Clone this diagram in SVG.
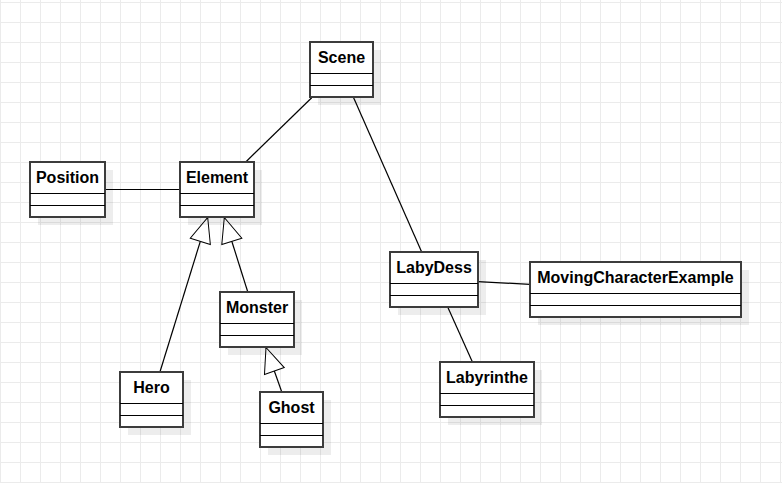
<svg xmlns="http://www.w3.org/2000/svg" width="782" height="483" viewBox="0 0 782 483">
<defs>
<pattern id="grid" x="0" y="2" width="20" height="20" patternUnits="userSpaceOnUse">
<path d="M0.5 0 V20 M0 0.5 H20" fill="none" stroke="#ebebeb" stroke-width="1"/>
</pattern>
<marker id="tri" viewBox="0 0 27 24" refX="1" refY="12" markerWidth="27" markerHeight="24" markerUnits="userSpaceOnUse" orient="auto">
<path d="M1 12 L26 1.5 L26 22.5 Z" fill="#fff" stroke="#000" stroke-width="1"/>
</marker>
</defs>
<style>
.sh{fill:#000;fill-opacity:0.07}
.box{fill:#fff;stroke:#3c3c3c;stroke-width:2}
.div{stroke:#000;stroke-width:1}
.t{font-family:"Liberation Sans",Arial,sans-serif;font-size:16px;font-weight:bold;fill:#000;text-anchor:middle}
.c{fill:none;stroke:#000;stroke-width:1.2}
</style>
<rect width="782" height="483" fill="#fff"/>
<rect width="782" height="483" fill="url(#grid)"/>
<g id="connectors">
<line class="c" x1="105" y1="189.5" x2="180" y2="189.5"/>
<line class="c" x1="311.7" y1="97.7" x2="246" y2="161.7"/>
<line class="c" x1="353.3" y1="97" x2="421.7" y2="252"/>
<line class="c" x1="478" y1="281.7" x2="530" y2="284.3"/>
<line class="c" x1="447.7" y1="307" x2="472.3" y2="361.7"/>
<path class="c" d="M207.7 217.5 L160 371.7" marker-start="url(#tri)"/>
<path class="c" d="M224.3 217.5 L247.7 291.7" marker-start="url(#tri)"/>
<path class="c" d="M266 347.5 L281.7 391.7" marker-start="url(#tri)"/>
</g>
<g id="Scene">
<rect class="sh" x="318" y="50" width="63" height="55"/>
<rect class="box" x="310" y="42" width="63" height="55"/>
<line class="div" x1="310" y1="73.5" x2="373" y2="73.5"/>
<line class="div" x1="310" y1="85.5" x2="373" y2="85.5"/>
<text class="t" x="341.5" y="63">Scene</text>
</g>
<g id="Position">
<rect class="sh" x="38" y="170" width="75" height="55"/>
<rect class="box" x="30" y="162" width="75" height="55"/>
<line class="div" x1="30" y1="193.5" x2="105" y2="193.5"/>
<line class="div" x1="30" y1="205.5" x2="105" y2="205.5"/>
<text class="t" x="67.5" y="183">Position</text>
</g>
<g id="Element">
<rect class="sh" x="188" y="170" width="74" height="55"/>
<rect class="box" x="180" y="162" width="74" height="55"/>
<line class="div" x1="180" y1="193.5" x2="254" y2="193.5"/>
<line class="div" x1="180" y1="205.5" x2="254" y2="205.5"/>
<text class="t" x="217" y="183">Element</text>
</g>
<g id="Monster">
<rect class="sh" x="228" y="300" width="74" height="55"/>
<rect class="box" x="220" y="292" width="74" height="55"/>
<line class="div" x1="220" y1="323.5" x2="294" y2="323.5"/>
<line class="div" x1="220" y1="335.5" x2="294" y2="335.5"/>
<text class="t" x="257" y="313">Monster</text>
</g>
<g id="Hero">
<rect class="sh" x="128" y="380" width="63" height="55"/>
<rect class="box" x="120" y="372" width="63" height="55"/>
<line class="div" x1="120" y1="403.5" x2="183" y2="403.5"/>
<line class="div" x1="120" y1="415.5" x2="183" y2="415.5"/>
<text class="t" x="151.5" y="393">Hero</text>
</g>
<g id="Ghost">
<rect class="sh" x="268" y="400" width="63" height="55"/>
<rect class="box" x="260" y="392" width="63" height="55"/>
<line class="div" x1="260" y1="423.5" x2="323" y2="423.5"/>
<line class="div" x1="260" y1="435.5" x2="323" y2="435.5"/>
<text class="t" x="291.5" y="413">Ghost</text>
</g>
<g id="LabyDess">
<rect class="sh" x="398" y="260" width="88" height="55"/>
<rect class="box" x="390" y="252" width="88" height="55"/>
<line class="div" x1="390" y1="283.5" x2="478" y2="283.5"/>
<line class="div" x1="390" y1="295.5" x2="478" y2="295.5"/>
<text class="t" x="434" y="273">LabyDess</text>
</g>
<g id="MovingCharacterExample">
<rect class="sh" x="538" y="270" width="211" height="55"/>
<rect class="box" x="530" y="262" width="211" height="55"/>
<line class="div" x1="530" y1="293.5" x2="741" y2="293.5"/>
<line class="div" x1="530" y1="305.5" x2="741" y2="305.5"/>
<text class="t" x="635.5" y="283">MovingCharacterExample</text>
</g>
<g id="Labyrinthe">
<rect class="sh" x="448" y="370" width="94" height="55"/>
<rect class="box" x="440" y="362" width="94" height="55"/>
<line class="div" x1="440" y1="393.5" x2="534" y2="393.5"/>
<line class="div" x1="440" y1="405.5" x2="534" y2="405.5"/>
<text class="t" x="487" y="383">Labyrinthe</text>
</g>
</svg>
